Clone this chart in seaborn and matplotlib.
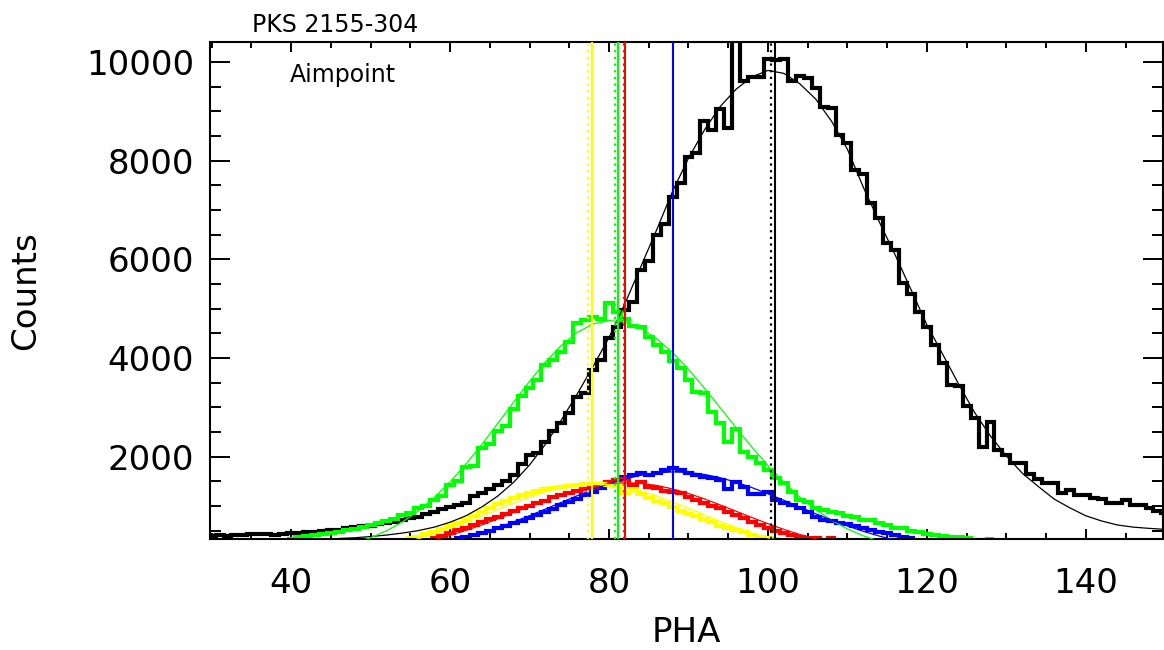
import matplotlib
matplotlib.use("Agg")
import matplotlib.pyplot as plt
import seaborn as sns
import pandas as pd
from matplotlib.ticker import MultipleLocator, FixedLocator

# ---------------- data ----------------
# Histograms: one value per PHA bin (bin width 1, centred on integer PHA)
black_pha = list(range(30, 151))
black_counts = [400, 410, 400, 420, 410, 430, 440, 430, 420, 440,
                460, 460, 470, 470, 490, 510, 520, 550, 570, 590,
                600, 630, 660, 680, 720, 750, 780, 830, 880, 940,
                970, 1020, 1060, 1200, 1270, 1350, 1420, 1500, 1630, 1860,
                2030, 2070, 2300, 2510, 2680, 2880, 3200, 3280, 3760, 3950,
                4400, 4620, 4970, 5140, 5780, 5960, 6490, 6710, 7270, 7540,
                8080, 8150, 8800, 8630, 9050, 8670, 10600, 9610, 9700, 9690,
                10060, 10040, 10070, 9610, 9720, 9680, 9480, 9090, 9060, 8520,
                8350, 7810, 7730, 7150, 6830, 6340, 6190, 5510, 5300, 4940,
                4630, 4260, 3890, 3450, 3430, 3030, 2780, 2200, 2710, 2140,
                2030, 1880, 1870, 1650, 1540, 1460, 1460, 1270, 1320, 1220,
                1220, 1160, 1140, 1050, 1050, 1120, 1020, 1010, 950, 890,
                850]

green_pha = list(range(40, 129))
green_counts = [340, 380, 395, 410, 430, 450, 480, 510, 530, 580,
                620, 660, 700, 740, 820, 860, 960, 1000, 1120, 1200,
                1420, 1500, 1780, 1800, 2170, 2250, 2520, 2620, 2960, 3230,
                3400, 3560, 3860, 3960, 4130, 4330, 4700, 4770, 4840, 4800,
                5110, 4940, 4800, 4640, 4630, 4430, 4260, 4130, 3930, 3790,
                3550, 3320, 3280, 2910, 2680, 2300, 2570, 2100, 2000, 1870,
                1730, 1560, 1460, 1290, 1120, 1090, 950, 920, 880, 850,
                800, 780, 720, 710, 650, 615, 560, 545, 500, 480,
                440, 415, 400, 380, 365, 360, 300, 300, 340]

blue_pha = list(range(61, 119))
blue_counts = [345, 379, 413, 460, 500, 548, 595, 660, 703, 757,
               818, 879, 946, 1014, 1081, 1149, 1223, 1291, 1358, 1445,
               1535, 1590, 1628, 1676, 1628, 1662, 1730, 1764, 1730, 1676,
               1628, 1595, 1561, 1527, 1338, 1493, 1392, 1243, 1243, 1290,
               1122, 1054, 1020, 953, 885, 784, 717, 700, 660, 640,
               600, 548, 520, 480, 450, 413, 370, 350]

red_pha = list(range(58, 109))
red_counts = [345, 392, 446, 514, 548, 615, 683, 730, 784, 838,
              900, 953, 1000, 1054, 1108, 1176, 1223, 1270, 1311, 1351,
              1390, 1440, 1493, 1527, 1550, 1426, 1493, 1392, 1358, 1311,
              1291, 1257, 1189, 1122, 1054, 1000, 953, 885, 818, 750,
              683, 615, 548, 500, 446, 413, 379, 358, 345, 300,
              345]

yellow_pha = list(range(55, 102))
yellow_counts = [345, 380, 430, 480, 540, 590, 650, 710, 790, 870,
                 950, 1030, 1100, 1170, 1220, 1260, 1300, 1340, 1370, 1390,
                 1400, 1420, 1440, 1450, 1440, 1430, 1410, 1270, 1320, 1240,
                 1170, 1110, 1060, 980, 900, 840, 790, 730, 670, 600,
                 560, 510, 470, 420, 380, 345, 340]

black_fit_pha = list(range(44, 151, 2))
black_fit = [320, 340, 355, 380, 410, 450, 500, 570, 670, 800,
             980, 1200, 1480, 1830, 2250, 2740, 3270, 3830, 4415, 5100,
             5850, 6600, 7380, 8050, 8620, 9100, 9450, 9700, 9830, 9770,
             9560, 9250, 8800, 8230, 7460, 6760, 6090, 5385, 4670, 4070,
             3467, 2894, 2417, 2012, 1663, 1396, 1140, 960, 800, 694,
             613, 570, 545, 525]

green_fit_pha = list(range(46, 115, 2))
green_fit = [171, 250, 356, 496, 675, 898, 1168, 1486, 1848, 2247,
             2671, 3105, 3527, 3919, 4255, 4518, 4690, 4759, 4726, 4601,
             4392, 4109, 3770, 3390, 2989, 2583, 2189, 1818, 1481, 1182,
             925, 710, 534, 394, 285]

blue_fit_pha = list(range(60, 119, 2))
blue_fit = [285, 363, 455, 560, 676, 803, 936, 1073, 1207, 1335,
            1450, 1547, 1622, 1670, 1690, 1679, 1639, 1572, 1481, 1371,
            1247, 1114, 977, 842, 713, 594, 485, 389, 307, 238]

red_fit_pha = list(range(56, 109, 2))
red_fit = [242, 316, 403, 504, 616, 738, 866, 995, 1119, 1232,
           1329, 1404, 1451, 1470, 1458, 1415, 1346, 1253, 1143, 1020,
           892, 764, 640, 525, 422, 332, 256]

yellow_fit_pha = list(range(54, 103, 2))
yellow_fit = [255, 335, 431, 540, 663, 793, 927, 1059, 1180, 1285,
              1367, 1420, 1440, 1426, 1380, 1304, 1203, 1084, 954, 820,
              688, 564, 451, 353, 270]

# Vertical markers: (PHA, colour, style)
vline_pha = [100.35, 100.9, 88.1, 77.3, 77.9, 80.8, 81.1, 81.85, 82.05]
vline_color = ["black", "black", "blue", "yellow", "yellow", "lime", "lime", "red", "red"]
vline_dotted = [True, False, False, True, False, True, False, True, False]

title_text = "PKS 2155-304"
panel_text = "Aimpoint"
x_label = "PHA"
y_label = "Counts"
x_ticks = [40, 60, 80, 100, 120, 140]
y_ticks = [2000, 4000, 6000, 8000, 10000]

# ---------------- style ----------------
sns.set_theme(style="ticks")
plt.rcParams["font.family"] = ["DejaVu Sans"]
plt.rcParams["lines.solid_joinstyle"] = "miter"
plt.rcParams["lines.solid_capstyle"] = "butt"

fig = plt.figure(figsize=(11.64, 6.5), dpi=100)
W, H = 1164, 650
ax = fig.add_axes([210 / W, (H - 539) / H, 953 / W, 496.7 / H])

hist_sets = [
    (black_pha, black_counts, "black"),
    (green_pha, green_counts, "lime"),
    (blue_pha, blue_counts, "blue"),
    (red_pha, red_counts, "red"),
    (yellow_pha, yellow_counts, "yellow"),
]
for pha, cnt, col in hist_sets:
    df = pd.DataFrame({"pha": pha, "counts": cnt})
    sns.histplot(data=df, x="pha", weights="counts", discrete=True,
                 element="step", fill=False, color=col, linewidth=3.0,
                 ax=ax, zorder=2)

fit_sets = [
    (black_fit_pha, black_fit, "black"),
    (green_fit_pha, green_fit, "lime"),
    (blue_fit_pha, blue_fit, "blue"),
    (red_fit_pha, red_fit, "red"),
    (yellow_fit_pha, yellow_fit, "yellow"),
]
for xs, ys, col in fit_sets:
    sns.lineplot(x=xs, y=ys, color=col, linewidth=0.9, ax=ax, sort=False, zorder=3)

for xv, col, dotted in zip(vline_pha, vline_color, vline_dotted):
    if dotted:
        ax.axvline(xv, color=col, linewidth=1.6, linestyle=(0, (1, 2)), zorder=4)
    else:
        ax.axvline(xv, color=col, linewidth=1.5, linestyle="-", zorder=4)

ax.set_xlim(29.8, 149.7)
ax.set_ylim(330, 10400)

ax.xaxis.set_major_locator(FixedLocator(x_ticks))
ax.xaxis.set_minor_locator(MultipleLocator(5))
ax.yaxis.set_major_locator(FixedLocator(y_ticks))
ax.yaxis.set_minor_locator(MultipleLocator(500))
ax.set_xticklabels([str(t) for t in x_ticks])
ax.set_yticklabels([str(t) for t in y_ticks])

ax.tick_params(axis="both", which="both", direction="in", top=True, right=True,
               color="black", width=1.4, labelsize=24.5, labelcolor="black")
ax.tick_params(axis="x", which="major", length=7.2, pad=20)
ax.tick_params(axis="x", which="minor", length=4.3)
ax.tick_params(axis="y", which="major", length=14.4, pad=11.5)
ax.tick_params(axis="y", which="minor", length=7.9)

for s in ax.spines.values():
    s.set_linewidth(1.5)
    s.set_color("black")
    s.set_visible(True)

ax.set_xlabel(x_label, fontsize=24.5, color="black")
ax.set_ylabel(y_label, fontsize=24.5, color="black")
ax.xaxis.set_label_coords(0.5, -0.155)
ax.yaxis.set_label_coords(-0.176, 0.5)

ax.text(80 / 953, (539 - 82) / 496.7, panel_text, transform=ax.transAxes,
        fontsize=17, va="baseline", ha="left", color="black")
fig.text(252 / W, 1 - 32.3 / H, title_text, fontsize=17, va="baseline",
         ha="left", color="black")

ax.set_facecolor("white")
fig.patch.set_facecolor("white")
fig.savefig("out.png", dpi=100, facecolor="white")
